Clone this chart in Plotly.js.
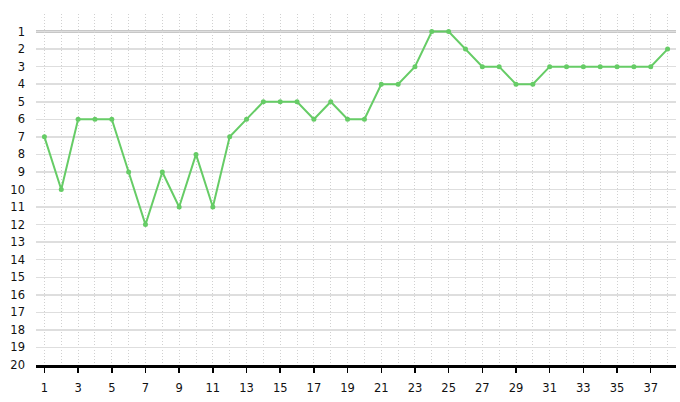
<!DOCTYPE html>
<html>
<head>
<meta charset="utf-8">
<script src="https://cdn.plot.ly/plotly-3.0.1.min.js"></script>
<style>html,body{margin:0;padding:0;background:#fff}#chart{width:680px;height:402px}</style>
</head>
<body>
<div id="chart"></div>
<script>
var rounds = [1,2,3,4,5,6,7,8,9,10,11,12,13,14,15,16,17,18,19,20,21,22,23,24,25,26,27,28,29,30,31,32,33,34,35,36,37,38];
var positions = [7,10,6,6,6,9,12,9,11,8,11,7,6,5,5,5,6,5,6,6,4,4,3,1,1,2,3,3,4,4,3,3,3,3,3,3,3,2];
var xTicks = [1,3,5,7,9,11,13,15,17,19,21,23,25,27,29,31,33,35,37];
var yTicks = [0,1,2,3,4,5,6,7,8,9,10,11,12,13,14,15,16,17,18,19,20];
var yLabels = yTicks.map(function(v){ return v === 0 ? '' : String(v); });
var leaderLine = 1;

var trace = {
  x: rounds, y: positions, type: 'scatter', mode: 'lines+markers',
  line: {color: '#66cc66', width: 2},
  marker: {color: '#66cc66', size: 5},
  hoverinfo: 'x+y'
};

var layout = {
  width: 680, height: 402,
  margin: {l: 36, r: 4, t: 14, b: 37},
  paper_bgcolor: '#fff', plot_bgcolor: '#fff',
  showlegend: false,
  font: {family: 'DejaVu Sans, Verdana, sans-serif', size: 11.5, color: '#111'},
  xaxis: {
    range: [0.5, 38.5], tickmode: 'array', tickvals: xTicks,
    ticks: 'outside', ticklen: 5, tickwidth: 1.5, tickcolor: '#000',
    showgrid: true, gridcolor: '#d0d0d0', griddash: '1px,2px', gridwidth: 1,
    minor: {dtick: 1, tick0: 0, showgrid: true, gridcolor: '#d0d0d0', griddash: '1px,2px', gridwidth: 1, ticks: ''},
    showline: true, linecolor: '#000', linewidth: 2.5,
    zeroline: false, fixedrange: true, ticklabelstandoff: 6
  },
  yaxis: {
    range: [20, 0], tickmode: 'array', tickvals: yTicks, ticktext: yLabels,
    ticks: '', showgrid: true, gridcolor: '#dedede', gridwidth: 1.5,
    showline: false, zeroline: false, fixedrange: true, ticklabelstandoff: 10
  },
  shapes: [{
    type: 'line', xref: 'x domain', x0: 0, x1: 1, yref: 'y', y0: leaderLine, y1: leaderLine,
    line: {color: '#8f8f8f', width: 2}, layer: 'below'
  }]
};

Plotly.newPlot('chart', [trace], layout, {displayModeBar: false, staticPlot: true});
</script>
</body>
</html>
